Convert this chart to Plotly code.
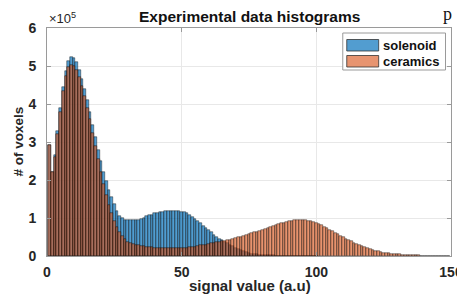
import plotly.graph_objects as go

# Histogram bins (bin centres, signal value a.u.) and counts in units of 1e5 voxels
bin_centers = list(range(1, 150))

solenoid_counts = [
    2.92, 2.22, 2.65, 3.30, 3.90, 4.45, 4.88, 5.12, 5.25, 5.22,
    5.10, 4.90, 4.65, 4.40, 4.10, 3.80, 3.45, 3.12, 2.79, 2.50,
    2.22, 1.98, 1.75, 1.55, 1.36, 1.18, 1.06, 1.00, 0.96, 0.95,
    0.95, 0.95, 0.95, 0.96, 0.98, 1.01, 1.04, 1.07, 1.09, 1.12,
    1.14, 1.16, 1.17, 1.18, 1.19, 1.19, 1.19, 1.19, 1.18, 1.17,
    1.15, 1.12, 1.08, 1.03, 0.98, 0.92, 0.86, 0.80, 0.74, 0.68,
    0.62, 0.56, 0.51, 0.46, 0.42, 0.38, 0.34, 0.30, 0.26, 0.22,
    0.18, 0.15, 0.12, 0.10, 0.08, 0.06, 0.05, 0.04, 0.03, 0.03,
    0.02, 0.02, 0.015, 0.015, 0.012, 0.012, 0.01, 0.01, 0.01, 0.01,
    0.008, 0.008, 0.007, 0.007, 0.006, 0.006, 0.005, 0.005, 0.004, 0.004,
]

ceramics_counts = [
    2.92, 2.22, 2.60, 3.20, 3.80, 4.35, 4.75, 4.97, 5.03, 5.00,
    4.90, 4.72, 4.48, 4.20, 3.90, 3.60, 3.25, 2.90, 2.55, 2.20,
    1.90, 1.60, 1.35, 1.12, 0.92, 0.76, 0.63, 0.52, 0.44, 0.38,
    0.34, 0.31, 0.29, 0.28, 0.27, 0.26, 0.25, 0.24, 0.23, 0.22,
    0.22, 0.21, 0.21, 0.20, 0.20, 0.20, 0.20, 0.20, 0.21, 0.21,
    0.22, 0.22, 0.23, 0.24, 0.25, 0.26, 0.28, 0.29, 0.30, 0.32,
    0.33, 0.35, 0.36, 0.37, 0.39, 0.40, 0.42, 0.43, 0.45, 0.47,
    0.49, 0.51, 0.53, 0.55, 0.57, 0.60, 0.62, 0.64, 0.67, 0.69,
    0.72, 0.74, 0.77, 0.79, 0.82, 0.84, 0.86, 0.88, 0.90, 0.92,
    0.93, 0.94, 0.95, 0.95, 0.95, 0.94, 0.93, 0.92, 0.90, 0.87,
    0.84, 0.81, 0.77, 0.73, 0.69, 0.65, 0.61, 0.57, 0.53, 0.50,
    0.46, 0.42, 0.39, 0.35, 0.32, 0.29, 0.26, 0.23, 0.20, 0.18,
    0.16, 0.14, 0.12, 0.105, 0.09, 0.08, 0.07, 0.06, 0.05, 0.045,
    0.04, 0.035, 0.03, 0.025, 0.02, 0.018, 0.016, 0.014, 0.012, 0.01,
    0.009, 0.008, 0.007, 0.006, 0.005, 0.005, 0.004, 0.004, 0.003,
]

x_ticks = [0, 50, 100, 150]
y_ticks = [0, 1, 2, 3, 4, 5, 6]
series_names = ["solenoid", "ceramics"]

BLUE = "rgba(0,110,185,0.68)"
ORANGE = "rgba(217,83,25,0.62)"
FONT = "Liberation Sans"
TXT = "#262626"

fig = go.Figure()
fig.add_trace(go.Bar(
    x=bin_centers[:len(solenoid_counts)], y=solenoid_counts, width=1,
    name=series_names[0], marker=dict(color=BLUE, line=dict(color="rgba(0,0,0,0.8)", width=0.5)),
))
fig.add_trace(go.Bar(
    x=bin_centers[:len(ceramics_counts)], y=ceramics_counts, width=1,
    name=series_names[1], marker=dict(color=ORANGE, line=dict(color="rgba(0,0,0,0.8)", width=0.5)),
))

# page offset of the plot div (default body margin)
OFF = 8
W, H = 465 - OFF, 296 - OFF
L, R, T, B = 46.5 - OFF, 451.5 - OFF, 28 - OFF, 256 - OFF
pw, ph = R - L, B - T

def px(xp):
    return (xp - OFF - L) / pw

def py(yp):
    return (B - (yp - OFF)) / ph

axis_common = dict(
    showline=True, linecolor="#9a9a9a", linewidth=1, mirror="ticks",
    ticks="inside", ticklen=4, tickcolor="#9a9a9a", automargin=False,
    showgrid=True, gridcolor="#e8e8e8", gridwidth=1, zeroline=False,
    tickfont=dict(family=FONT, size=14, color=TXT, weight="bold"),
)

fig.update_layout(
    width=W, height=H, autosize=False,
    margin=dict(l=L, r=W - R, t=T, b=H - B, pad=0),
    paper_bgcolor="white", plot_bgcolor="white",
    barmode="overlay", bargap=0, showlegend=False,
    xaxis=dict(range=[0, 150], tickvals=x_ticks, ticklabelstandoff=3, **axis_common),
    yaxis=dict(range=[0, 6], tickvals=y_ticks, ticklabelstandoff=7, **axis_common),
)

annotations = [
    dict(x=px(249), y=py(16), text="Experimental data histograms", showarrow=False,
         font=dict(family=FONT, size=15.5, color="#111111", weight="bold"),
         xanchor="center", yanchor="middle"),
    dict(x=px(46), y=py(18), text="×10<sup>5</sup>", showarrow=False,
         font=dict(family=FONT, size=13, color=TXT), xanchor="left", yanchor="middle"),
    dict(x=px(250), y=py(285), text="signal value (a.u)", showarrow=False,
         font=dict(family=FONT, size=15, color=TXT, weight="bold"), xanchor="center", yanchor="middle"),
    dict(x=px(17), y=py(142), text="# of voxels", showarrow=False, textangle=-90,
         font=dict(family=FONT, size=13.5, color=TXT, weight="bold"), xanchor="center", yanchor="middle"),
    dict(x=px(381), y=py(45), text=series_names[0], showarrow=False,
         font=dict(family=FONT, size=13, color="#111111", weight="bold"), xanchor="left", yanchor="middle"),
    dict(x=px(381), y=py(61), text=series_names[1], showarrow=False,
         font=dict(family=FONT, size=13, color="#111111", weight="bold"), xanchor="left", yanchor="middle"),
    dict(x=px(448), y=py(14), text="p", showarrow=False,
         font=dict(family="Liberation Serif", size=18, color="#111111"), xanchor="center", yanchor="middle"),
]
for a in annotations:
    a.update(xref="paper", yref="paper")
fig.update_layout(annotations=annotations)

shapes = [
    dict(type="rect", x0=px(343), x1=px(446), y0=py(33), y1=py(70),
         fillcolor="white", line=dict(color="#9a9a9a", width=1)),
    dict(type="rect", x0=px(347), x1=px(379), y0=py(39.5), y1=py(51),
         fillcolor=BLUE, line=dict(color="#333333", width=0.8)),
    dict(type="rect", x0=px(347), x1=px(379), y0=py(55.5), y1=py(67),
         fillcolor=ORANGE, line=dict(color="#333333", width=0.8)),
]
for s in shapes:
    s.update(xref="paper", yref="paper", layer="above")
fig.update_layout(shapes=shapes)

fig.write_html("out.html")
